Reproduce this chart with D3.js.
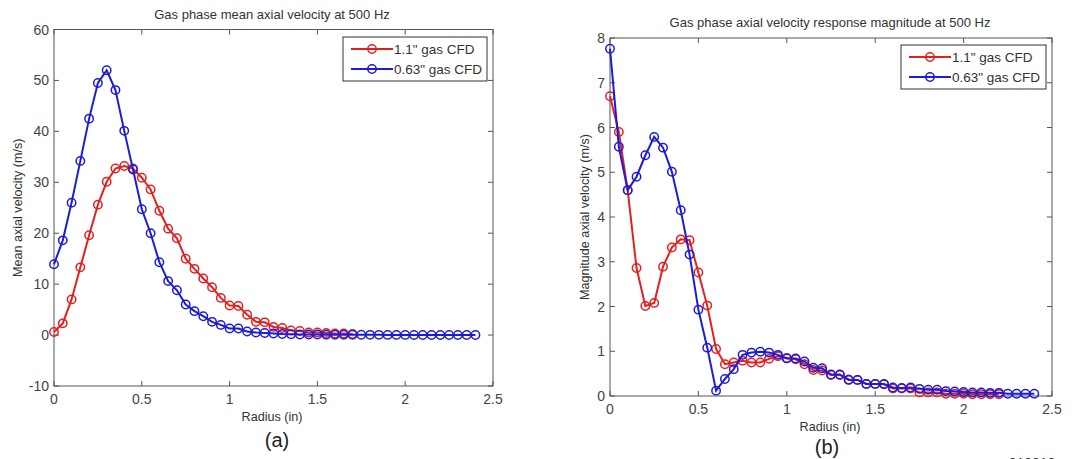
<!DOCTYPE html>
<html>
<head>
<meta charset="utf-8">
<script src="https://cdn.jsdelivr.net/npm/d3@7"></script>
<style>
  body { margin: 0; background: #fff; }
  svg { display: block; font-family: "Liberation Sans", Arial, sans-serif; }
</style>
</head>
<body>
<svg id="chart" width="1075" height="459"></svg>
<script>
// radius samples (in), 0.05 step
const radius = d3.range(0, 49).map(i => +(i * 0.05).toFixed(2));

// (a) mean axial velocity (m/s)
const meanRed = [0.6, 2.3, 7.0, 13.3, 19.6, 25.6, 30.1, 32.7, 33.2, 32.7, 30.9, 28.6, 24.4, 20.9, 19.0,
  15.0, 13.0, 11.1, 9.4, 7.3, 5.8, 5.7, 4.0, 2.6, 2.5, 1.6, 1.4, 0.9, 0.8, 0.5, 0.5, 0.4, 0.3, 0.3, 0.2];
const meanBlue = [13.9, 18.6, 26.0, 34.2, 42.5, 49.5, 52.0, 48.1, 40.1, 32.5, 24.7, 20.0, 14.3, 10.6, 8.8,
  6.0, 4.7, 3.7, 2.6, 2.0, 1.3, 1.3, 0.7, 0.5, 0.4, 0.3, 0.2, 0.15, 0.12, 0.1, 0.1, 0.08, 0.07, 0.06, 0.05,
  0.05, 0.04, 0.04, 0.03, 0.03, 0.03, 0.02, 0.02, 0.02, 0.02, 0.01, 0.01, 0.01, 0.01];

// (b) response magnitude (m/s)
const magRed = [6.70, 5.90, 4.60, 2.86, 2.01, 2.08, 2.89, 3.32, 3.50, 3.48, 2.76, 2.02, 1.05, 0.71, 0.75,
  0.79, 0.75, 0.75, 0.83, 0.89, 0.85, 0.82, 0.71, 0.58, 0.57, 0.47, 0.47, 0.37, 0.36, 0.27, 0.27, 0.26,
  0.17, 0.17, 0.17, 0.08, 0.08, 0.08, 0.05, 0.05, 0.05, 0.04, 0.04, 0.04, 0.04];
const magBlue = [7.76, 5.57, 4.60, 4.90, 5.38, 5.79, 5.55, 5.01, 4.15, 3.16, 1.93, 1.08, 0.12, 0.38, 0.60,
  0.92, 0.97, 0.99, 0.97, 0.92, 0.84, 0.84, 0.77, 0.63, 0.62, 0.48, 0.48, 0.36, 0.36, 0.27, 0.27, 0.27,
  0.19, 0.18, 0.19, 0.16, 0.14, 0.14, 0.11, 0.10, 0.09, 0.08, 0.08, 0.07, 0.07, 0.05, 0.05, 0.05, 0.05];

const seriesNames = ['1.1" gas CFD', '0.63" gas CFD'];
const xTicks = [0, 0.5, 1, 1.5, 2, 2.5];
const yTicksA = [-10, 0, 10, 20, 30, 40, 50, 60];
const yTicksB = [0, 1, 2, 3, 4, 5, 6, 7, 8];

const RED = '#e3201f', BLUE = '#1c1cd8';
const svg = d3.select('#chart');

function panel(o) {
  const g = svg.append('g');
  const x = d3.scaleLinear().domain([0, 2.5]).range([o.left, o.right]);
  const y = d3.scaleLinear().domain(o.yDomain).range([o.bottom, o.top]);
  const tk = 5;

  // box
  g.append('rect')
    .attr('x', o.left).attr('y', o.top)
    .attr('width', o.right - o.left).attr('height', o.bottom - o.top)
    .attr('fill', 'none').attr('stroke', '#555').attr('stroke-width', 1);

  // inward ticks on all sides
  xTicks.forEach(t => {
    g.append('line').attr('x1', x(t)).attr('x2', x(t)).attr('y1', o.bottom).attr('y2', o.bottom - tk).attr('stroke', '#555');
    g.append('line').attr('x1', x(t)).attr('x2', x(t)).attr('y1', o.top).attr('y2', o.top + tk).attr('stroke', '#555');
    g.append('text').attr('x', x(t)).attr('y', o.bottom + 18)
      .attr('text-anchor', 'middle').attr('font-size', 14).attr('fill', '#444').text(t);
  });
  o.yTicks.forEach(t => {
    g.append('line').attr('x1', o.left).attr('x2', o.left + tk).attr('y1', y(t)).attr('y2', y(t)).attr('stroke', '#555');
    g.append('line').attr('x1', o.right).attr('x2', o.right - tk).attr('y1', y(t)).attr('y2', y(t)).attr('stroke', '#555');
    g.append('text').attr('x', o.left - 5).attr('y', y(t) + 5)
      .attr('text-anchor', 'end').attr('font-size', 14).attr('fill', '#444').text(t);
  });

  const line = d3.line().x((d, i) => x(radius[i])).y(d => y(d));
  [[o.red, RED], [o.blue, BLUE]].forEach(([vals, col]) => {
    g.append('path').datum(vals).attr('d', line)
      .attr('fill', 'none').attr('stroke', col).attr('stroke-width', 2);
    g.selectAll(null).data(vals).join('circle')
      .attr('cx', (d, i) => x(radius[i])).attr('cy', d => y(d)).attr('r', 4.2)
      .attr('fill', 'none').attr('stroke', col).attr('stroke-width', 1.5);
  });

  // legend
  const L = o.legend;
  g.append('rect').attr('x', L.x).attr('y', L.y).attr('width', L.w).attr('height', L.h)
    .attr('fill', '#fff').attr('stroke', '#333').attr('stroke-width', 1);
  [RED, BLUE].forEach((col, i) => {
    const ly = L.y + 12 + i * 20;
    g.append('line').attr('x1', L.x + 8).attr('x2', L.x + 50).attr('y1', ly).attr('y2', ly)
      .attr('stroke', col).attr('stroke-width', 2);
    g.append('circle').attr('cx', L.x + 29).attr('cy', ly).attr('r', 4.2)
      .attr('fill', 'none').attr('stroke', col).attr('stroke-width', 1.5);
    g.append('text').attr('x', L.x + 51).attr('y', ly + 5).attr('font-size', 13.5).attr('fill', '#333')
      .text(seriesNames[i]);
  });

  // labels
  g.append('text').attr('x', o.titleX).attr('y', o.titleY).attr('text-anchor', 'middle')
    .attr('font-size', 13).attr('fill', '#333').text(o.title);
  g.append('text').attr('x', o.labelX).attr('y', o.xlabY).attr('text-anchor', 'middle')
    .attr('font-size', 12.6).attr('fill', '#333').text('Radius (in)');
  g.append('text').attr('x', o.tagX).attr('y', o.tagY).attr('text-anchor', 'middle')
    .attr('font-size', 20).attr('fill', '#222').text(o.tag);
  const cy = (o.top + o.bottom) / 2;
  g.append('text').attr('transform', `translate(${o.ylabX},${cy}) rotate(-90)`)
    .attr('text-anchor', 'middle').attr('font-size', 12.6).attr('fill', '#333').text(o.ylabel);
}

panel({
  left: 54, right: 493, top: 29.5, bottom: 386, yDomain: [-10, 60], yTicks: yTicksA,
  red: meanRed, blue: meanBlue,
  legend: {x: 343, y: 37, w: 144, h: 44},
  title: 'Gas phase mean axial velocity at 500 Hz', titleX: 272, titleY: 19,
  labelX: 272, xlabY: 421, tag: '(a)', tagX: 277, tagY: 447,
  ylabel: 'Mean axial velocity (m/s)', ylabX: 22
});

panel({
  left: 610, right: 1052, top: 38, bottom: 396, yDomain: [0, 8], yTicks: yTicksB,
  red: magRed, blue: magBlue,
  legend: {x: 901, y: 45, w: 145, h: 44},
  title: 'Gas phase axial velocity response magnitude at 500 Hz', titleX: 830, titleY: 27,
  labelX: 830, xlabY: 431, tag: '(b)', tagX: 827, tagY: 454,
  ylabel: 'Magnitude axial velocity (m/s)', ylabX: 589
});

// figure code, cut at the bottom edge as in the source image
svg.append('text').attr('x', 1032).attr('y', 468).attr('text-anchor', 'middle')
  .attr('font-size', 14).attr('fill', '#333').text('010010');
</script>
</body>
</html>
